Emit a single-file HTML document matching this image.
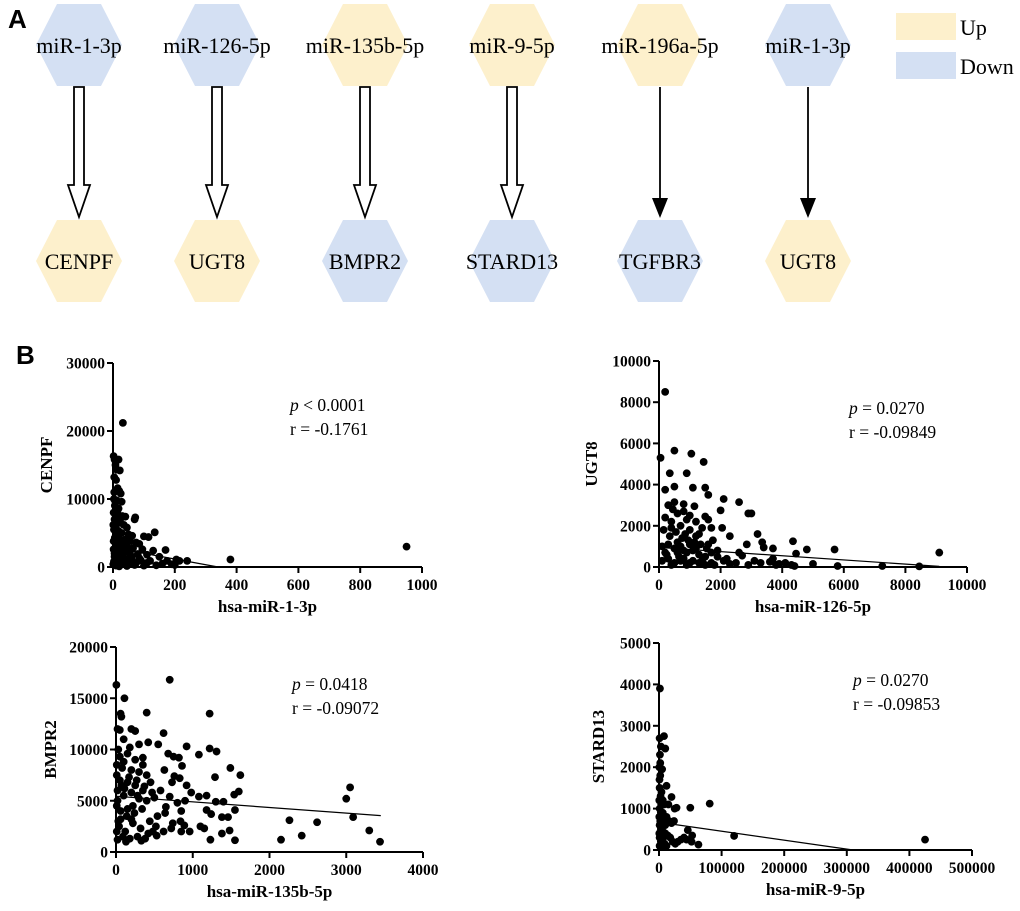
<!DOCTYPE html>
<html><head><meta charset="utf-8"><style>
html,body{margin:0;padding:0;background:#fff;}
svg{display:block;font-family:"Liberation Serif",serif;}
</style></head><body>
<svg id="fig" width="1020" height="911" viewBox="0 0 1020 911" xmlns="http://www.w3.org/2000/svg">
<text x="8" y="28" font-family="Liberation Sans, sans-serif" font-weight="bold" font-size="26">A</text>
<text x="16" y="364" font-family="Liberation Sans, sans-serif" font-weight="bold" font-size="26">B</text>
<rect x="896" y="13" width="60" height="27" fill="#fdf0cc"/>
<text x="960" y="35" font-size="22">Up</text>
<rect x="896" y="52" width="60" height="27" fill="#d4e0f3"/>
<text x="960" y="74" font-size="22">Down</text>
</svg>
<script>
const NS="http://www.w3.org/2000/svg";
const svg=document.getElementById('fig');
function mk(tag,attrs,parent){const e=document.createElementNS(NS,tag);for(const k in attrs)e.setAttribute(k,attrs[k]);(parent||svg).appendChild(e);return e;}

// Panel A network
const mirNames=["miR-1-3p","miR-126-5p","miR-135b-5p","miR-9-5p","miR-196a-5p","miR-1-3p"];
const mirState=["down","down","up","up","up","down"];
const geneNames=["CENPF","UGT8","BMPR2","STARD13","TGFBR3","UGT8"];
const geneState=["up","up","down","down","down","up"];
const arrowType=["hollow","hollow","hollow","hollow","solid","solid"];
const nodeX=[79,217,365,512,660,808];
const COL={up:"#fdf0cc",down:"#d4e0f3"};
function hex(cx,cy,fill,name){
  const p=[[cx-43,cy],[cx-22,cy-41],[cx+22,cy-41],[cx+43,cy],[cx+22,cy+41],[cx-22,cy+41]].map(a=>a.join(',')).join(' ');
  const h=mk('polygon',{points:p,fill:fill});
  
  
}
for(let i=0;i<6;i++){
  const cx=nodeX[i];
  hex(cx,45,COL[mirState[i]],'mirna-node-'+(i+1));
  const t=mk('text',{x:cx,y:53,'text-anchor':'middle','font-size':22});t.textContent=mirNames[i];
  
  
  hex(cx,261,COL[geneState[i]],'gene-node-'+(i+1));
  const g=mk('text',{x:cx,y:269,'text-anchor':'middle','font-size':22});g.textContent=geneNames[i];
  
  
  let a;
  if(arrowType[i]==="hollow"){
    a=mk('polygon',{points:`${cx-5},87 ${cx+5},87 ${cx+5},185 ${cx+11},185 ${cx},217 ${cx-11},185 ${cx-5},185`,fill:'#fff',stroke:'#000','stroke-width':1.8});
  }else{
    a=mk('g',{});
    mk('line',{x1:cx,y1:87,x2:cx,y2:204,stroke:'#000','stroke-width':1.8},a);
    mk('polygon',{points:`${cx-8},198 ${cx+8},198 ${cx},218`,fill:'#000'},a);
  }
  
  
}

// Panel B scatter data
const p1Points=[[32,21200],[2,16300],[5,15800],[18,15800],[8,15000],[12,14300],[22,14200],[4,13200],[10,12800],[15,11600],[20,11200],[25,10800],[3,10000],[12,9800],[28,9600],[6,9000],[18,8600],[2,8000],[10,7800],[30,7500],[40,7400],[72,7300],[70,7000],[5,7000],[15,6800],[22,6500],[35,6200],[8,6000],[45,5800],[3,5500],[18,5300],[28,5000],[50,4800],[62,4600],[100,4500],[115,4400],[135,5100],[6,4300],[20,4100],[38,4000],[55,3800],[75,3600],[85,3400],[10,3300],[25,3100],[45,3000],[65,2800],[95,2600],[130,2400],[170,2500],[2,2600],[15,2300],[35,2100],[55,2000],[80,1900],[110,1800],[150,1500],[5,1500],[25,1400],[40,1200],[60,1100],[90,1000],[120,900],[175,900],[205,1100],[215,900],[240,900],[380,1100],[950,3000],[3,800],[15,600],[30,500],[50,400],[70,300],[100,200],[140,250],[200,300],[10,200],[20,100],[45,150],[8,1800],[30,1700],[60,1500],[2,3800],[12,4800],[28,2700],[110,600],[160,500],[190,400],[75,600],[85,1300],[48,2400],[4,11000],[8,9500],[14,8200],[26,7200],[1,6200],[9,5200],[33,3400],[5,2000],[18,1000],[1,400]];
const p2Points=[[200,8500],[50,5300],[500,5650],[1050,5500],[1450,5100],[350,4550],[900,4550],[200,3750],[500,3900],[1100,3850],[1500,3850],[1600,3500],[2100,3300],[2600,3150],[2900,2600],[3000,2600],[2000,2750],[300,3000],[500,3150],[800,3050],[1150,2950],[1500,2450],[1600,2300],[1700,1900],[2050,1900],[2300,1500],[3200,1600],[3350,1200],[3400,950],[2850,1100],[3700,900],[4350,1250],[4450,650],[4800,850],[5700,850],[9100,700],[5000,150],[5800,50],[7250,50],[8450,30],[4100,200],[3900,150],[4300,100],[3600,250],[3100,300],[2700,550],[2500,200],[2200,400],[1900,500],[200,2400],[400,2200],[600,2600],[700,2000],[900,2300],[1000,1800],[1200,2200],[1300,1600],[150,1800],[350,1500],[550,1700],[750,1400],[950,1300],[1150,1200],[1350,1100],[1550,900],[1750,1300],[100,1000],[300,1100],[500,900],[700,1000],[900,700],[1100,800],[1300,600],[1500,500],[1700,700],[1900,800],[2100,300],[100,300],[300,400],[500,200],[700,300],[900,100],[1100,300],[1300,200],[1500,100],[1700,200],[2300,150],[2900,100],[3300,200],[3800,100],[4400,50],[250,600],[650,500],[850,1600],[450,2800],[800,2700],[1000,2500],[3700,400],[2600,700],[400,1900],[600,1200],[800,800],[1000,1100],[1200,1500],[1400,1900],[200,700],[400,100],[600,700],[800,400],[1000,200],[1200,900],[1400,300],[1600,1100],[1800,100]];
const p3Points=[[700,16800],[5,16300],[110,15000],[60,13500],[70,13200],[400,13600],[1220,13500],[20,12000],[50,11900],[200,12000],[250,11800],[620,11600],[100,11000],[300,10500],[420,10700],[550,10500],[920,10300],[1220,10100],[1310,9800],[1080,9500],[680,9600],[750,9300],[820,9200],[30,10000],[150,9600],[350,9200],[10,8500],[80,8200],[200,8000],[300,7800],[400,7500],[630,8000],[860,8400],[1490,8200],[1620,7500],[1290,7300],[760,7400],[830,7200],[50,7000],[150,6800],[250,6500],[450,6800],[580,6000],[730,6800],[920,6500],[980,5800],[1180,5500],[1080,5400],[1540,5600],[1600,5900],[3050,6300],[3000,5200],[20,6000],[100,5500],[200,5800],[300,5200],[400,5000],[500,5300],[700,5400],[800,4800],[900,5000],[1300,4900],[1400,4900],[1180,4100],[1550,4100],[1240,3700],[1380,3400],[1460,3400],[3090,3400],[2260,3100],[2620,2900],[3300,2100],[2420,1600],[2150,1200],[1230,1200],[1550,1150],[3440,1000],[1380,1800],[1480,2100],[850,2000],[960,2000],[1100,2500],[1150,2300],[10,4500],[60,4000],[140,3500],[240,3800],[340,4200],[440,3000],[540,3500],[640,3800],[740,2800],[840,3000],[890,2600],[40,2500],[120,2000],[220,2800],[320,2300],[420,1800],[520,2500],[620,2000],[720,2300],[20,1200],[130,1000],[330,1100],[530,1600],[280,1500],[180,1300],[380,1300],[480,2000],[100,8800],[250,9000],[350,8500],[50,9300],[180,10200],[220,4500],[650,4400],[850,4000],[350,6000],[150,4200],[60,3200],[20,5000],[10,7500],[70,6500],[170,7300],[270,7000],[370,6400],[470,5800],[30,3000],[90,1500],[200,3200],[280,5500],[10,2000],[110,6200]];
const p4Points=[[1500,3900],[1000,2700],[8000,2750],[3000,2500],[10000,2450],[1500,2300],[5000,1950],[2000,2100],[12000,1550],[20000,1280],[25000,1000],[28000,1020],[50000,1020],[81000,1120],[120000,340],[425000,250],[46000,480],[53000,350],[52000,200],[63000,130],[2000,1800],[1000,1500],[4000,1400],[6000,1200],[8000,1100],[15000,1100],[1000,1000],[3000,900],[5000,800],[8000,700],[12000,800],[16000,700],[20000,650],[24000,700],[1000,600],[3000,500],[6000,450],[10000,400],[14000,350],[18000,300],[22000,200],[26000,150],[30000,200],[35000,250],[40000,300],[44000,250],[1000,300],[3000,200],[5000,100],[9000,150],[12000,100],[1000,100],[500,1200],[800,1700],[2000,700],[4000,600],[7000,300],[500,2000],[1500,800],[3500,1100],[500,400],[2500,1300],[6000,900],[10000,600],[500,800]];
// regression line endpoints [x,y] in data units
const p1Fit=[[0,2850],[340,0]];
const p2Fit=[[0,950],[9100,30]];
const p3Fit=[[0,5440],[3450,3550]];
const p4Fit=[[0,670],[310000,0]];
const p1XTicks=[0,200,400,600,800,1000], p1YTicks=[0,10000,20000,30000];
const p2XTicks=[0,2000,4000,6000,8000,10000], p2YTicks=[0,2000,4000,6000,8000,10000];
const p3XTicks=[0,1000,2000,3000,4000], p3YTicks=[0,5000,10000,15000,20000];
const p4XTicks=[0,100000,200000,300000,400000,500000], p4YTicks=[0,1000,2000,3000,4000,5000];

function scatter(cfg){
  const g=mk('g',{});
  
  
  const xs=v=>cfg.x0+(v-cfg.xmin)/(cfg.xmax-cfg.xmin)*(cfg.x1-cfg.x0);
  const ys=v=>cfg.yb-(v-cfg.ymin)/(cfg.ymax-cfg.ymin)*(cfg.yb-cfg.yt);
  cfg.points.forEach(p=>{
    const c=mk('circle',{cx:xs(p[0]),cy:ys(p[1]),r:3.9,fill:'#000'},g);
    
    
  });
  const fl=mk('line',{x1:xs(cfg.fit[0][0]),y1:ys(cfg.fit[0][1]),x2:xs(cfg.fit[1][0]),y2:ys(cfg.fit[1][1]),stroke:'#000','stroke-width':1.2},g);
  
  
  const ya=mk('line',{x1:cfg.x0,y1:cfg.yt,x2:cfg.x0,y2:cfg.yb+1,stroke:'#000','stroke-width':2},g);
  
  
  const xa=mk('line',{x1:cfg.x0-1,y1:cfg.yb,x2:cfg.x1,y2:cfg.yb,stroke:'#000','stroke-width':2},g);
  
  
  cfg.xticks.forEach(v=>{
    const X=xs(v);
    mk('line',{x1:X,y1:cfg.yb,x2:X,y2:cfg.yb+6,stroke:'#000','stroke-width':2},g);
    const t=mk('text',{x:X,y:cfg.yb+23,'text-anchor':'middle','font-size':15.5,'font-weight':'bold'},g);
    t.textContent=v;
    
    
  });
  cfg.yticks.forEach(v=>{
    const Y=ys(v);
    mk('line',{x1:cfg.x0-6,y1:Y,x2:cfg.x0,y2:Y,stroke:'#000','stroke-width':2},g);
    const t=mk('text',{x:cfg.x0-8,y:Y+5.5,'text-anchor':'end','font-size':15.5,'font-weight':'bold'},g);
    t.textContent=v;
    
    
  });
  const xl=mk('text',{x:(cfg.x0+cfg.x1)/2,y:cfg.yb+45,'text-anchor':'middle','font-size':17,'font-weight':'bold'},g);
  xl.textContent=cfg.xlabel;
  
  
  const yl=mk('text',{x:0,y:0,'text-anchor':'middle','font-size':17,'font-weight':'bold',transform:`translate(${cfg.ylx},${(cfg.yt+cfg.yb)/2}) rotate(-90)`},g);
  yl.textContent=cfg.ylabel;
  
  
  const s1=mk('text',{x:cfg.sx,y:cfg.sy,'font-size':17.5},g);
  s1.innerHTML='<tspan font-style="italic">p</tspan>'+cfg.pText;
  
  
  const s2=mk('text',{x:cfg.sx,y:cfg.sy+24,'font-size':17.5},g);
  s2.textContent=cfg.rText;
  
  
}
scatter({name:'scatter-cenpf',points:p1Points,fit:p1Fit,xticks:p1XTicks,yticks:p1YTicks,xmin:0,xmax:1000,ymin:0,ymax:30000,x0:113,x1:422,yt:363,yb:567,xlabel:'hsa-miR-1-3p',ylabel:'CENPF',ylx:52,sx:290,sy:411,pText:' < 0.0001',rText:'r = -0.1761'});
scatter({name:'scatter-ugt8',points:p2Points,fit:p2Fit,xticks:p2XTicks,yticks:p2YTicks,xmin:0,xmax:10000,ymin:0,ymax:10000,x0:659,x1:967,yt:361,yb:567,xlabel:'hsa-miR-126-5p',ylabel:'UGT8',ylx:597,sx:849,sy:414,pText:' = 0.0270',rText:'r = -0.09849'});
scatter({name:'scatter-bmpr2',points:p3Points,fit:p3Fit,xticks:p3XTicks,yticks:p3YTicks,xmin:0,xmax:4000,ymin:0,ymax:20000,x0:116,x1:423,yt:647,yb:852,xlabel:'hsa-miR-135b-5p',ylabel:'BMPR2',ylx:56,sx:292,sy:690,pText:' = 0.0418',rText:'r = -0.09072'});
scatter({name:'scatter-stard13',points:p4Points,fit:p4Fit,xticks:p4XTicks,yticks:p4YTicks,xmin:0,xmax:500000,ymin:0,ymax:5000,x0:659,x1:972,yt:643,yb:850,xlabel:'hsa-miR-9-5p',ylabel:'STARD13',ylx:604,sx:853,sy:686,pText:' = 0.0270',rText:'r = -0.09853'});
</script>
</body></html>
